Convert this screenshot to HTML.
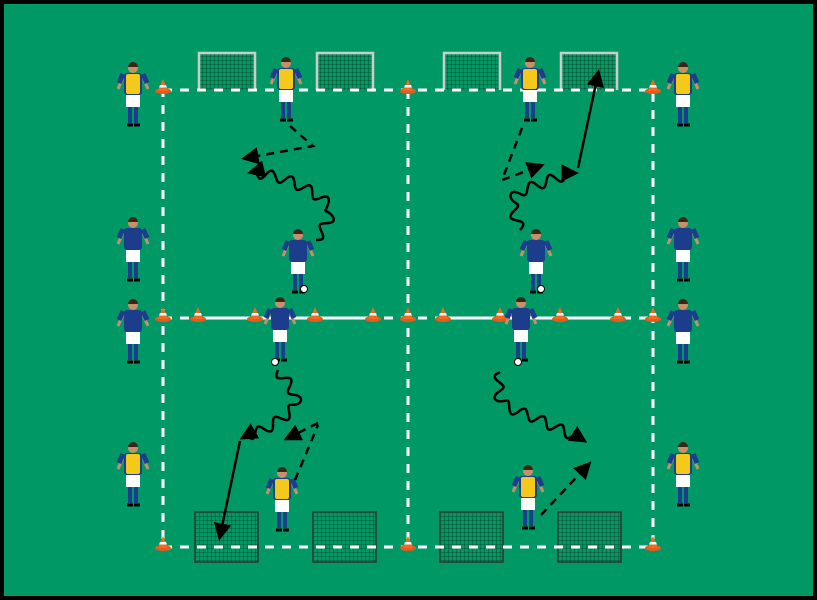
<!DOCTYPE html>
<html><head><meta charset="utf-8"><style>
html,body{margin:0;padding:0;background:#000}
svg{display:block}
</style></head><body>
<svg id="s" width="817" height="600" viewBox="0 0 817 600" xmlns="http://www.w3.org/2000/svg">
<defs>
<pattern id="net" width="4" height="4" patternUnits="userSpaceOnUse"><path d="M0 0H4M0 0V4" stroke="#0a3a22" stroke-width="0.8"/></pattern>
<g id="cone"><ellipse cx="0" cy="3" rx="8" ry="3" fill="#e85a1a"/><path d="M-5 3L0 -9L5 3Z" fill="#f26a22"/><path d="M-3 -3H3L3.9 -0.5H-3.9Z" fill="#fff"/></g>
<g id="pb">
<path d="M-9 -20L-15 -6M9 -20L15 -6" stroke="#c8906a" stroke-width="3"/>
<path d="M-10 -21L-14 -12M10 -21L14 -12" stroke="#1c3c8c" stroke-width="5"/>
<rect x="-9" y="-22" width="18" height="22" rx="3" fill="#1c3c8c"/>
<rect x="-7" y="0" width="14" height="12" fill="#fff"/>
<path d="M-3 12V28M3 12V28" stroke="#1c3c8c" stroke-width="4"/>
<path d="M-6 30H0M1 30H7" stroke="#000" stroke-width="3"/>
<circle cx="0" cy="-27" r="5" fill="#c8906a"/><path d="M-5 -28A5 5 0 0 1 5 -28Z" fill="#3a2618"/>
</g>
<g id="py">
<path d="M-9 -20L-15 -6M9 -20L15 -6" stroke="#c8906a" stroke-width="3"/>
<path d="M-10 -21L-14 -12M10 -21L14 -12" stroke="#1c3c8c" stroke-width="5"/>
<rect x="-9" y="-22" width="18" height="22" rx="3" fill="#1c3c8c"/>
<rect x="-7" y="-21" width="14" height="20" rx="2" fill="#f5c81c"/>
<rect x="-7" y="0" width="14" height="12" fill="#fff"/>
<path d="M-3 12V28M3 12V28" stroke="#1c3c8c" stroke-width="4"/>
<path d="M-6 30H0M1 30H7" stroke="#000" stroke-width="3"/>
<circle cx="0" cy="-27" r="5" fill="#c8906a"/><path d="M-5 -28A5 5 0 0 1 5 -28Z" fill="#3a2618"/>
</g>
<g id="gt"><rect x="0" y="0" width="58" height="38" fill="url(#net)"/><path d="M1 38V1H57V38" fill="none" stroke="#ccc" stroke-width="2.5"/></g>
<g id="gb"><rect x="0" y="0" width="63" height="50" fill="url(#net)" stroke="#333" stroke-width="1.5"/></g>
<marker id="ah" markerWidth="7" markerHeight="7" refX="5" refY="3.5" orient="auto" markerUnits="strokeWidth"><path d="M0 0L7 3.5L0 7Z" fill="#000"/></marker>
</defs>
<rect x="0" y="0" width="817" height="600" fill="#000"/>
<rect x="4" y="4" width="809" height="592" fill="#009966"/>
<use href="#gt" x="198" y="52"/><use href="#gt" x="316" y="52"/><use href="#gt" x="443" y="52"/><use href="#gt" x="560" y="52"/>
<use href="#gb" x="195" y="512"/><use href="#gb" x="313" y="512"/><use href="#gb" x="440" y="512"/><use href="#gb" x="558" y="512"/>
<g stroke="#fff" stroke-width="3" fill="none" stroke-dasharray="9 8">
<rect x="163" y="90" width="490" height="457"/>
<path d="M408 90V547"/>
</g>
<path d="M163 318H653" stroke="#fff" stroke-width="3" stroke-dasharray="9 8"/>
<path d="M198 318H373M443 318H618" stroke="#fff" stroke-width="3"/>
<g>
<use href="#cone" x="163" y="88"/><use href="#cone" x="408" y="88"/><use href="#cone" x="653" y="88"/>
<use href="#cone" x="163" y="545"/><use href="#cone" x="408" y="545"/><use href="#cone" x="653" y="545"/>
<use href="#cone" x="163" y="316"/><use href="#cone" x="198" y="316"/><use href="#cone" x="255" y="316"/><use href="#cone" x="315" y="316"/><use href="#cone" x="373" y="316"/><use href="#cone" x="408" y="316"/><use href="#cone" x="443" y="316"/><use href="#cone" x="500" y="316"/><use href="#cone" x="560" y="316"/><use href="#cone" x="618" y="316"/><use href="#cone" x="653" y="316"/>
</g>
<use href="#py" x="133" y="95"/><use href="#pb" x="133" y="250"/><use href="#pb" x="133" y="332"/><use href="#py" x="133" y="475"/>
<use href="#py" x="683" y="95"/><use href="#pb" x="683" y="250"/><use href="#pb" x="683" y="332"/><use href="#py" x="683" y="475"/>
<use href="#py" x="286" y="90"/><use href="#py" x="530" y="90"/>
<use href="#pb" x="298" y="262"/><use href="#pb" x="536" y="262"/>
<use href="#pb" x="280" y="330"/><use href="#pb" x="521" y="330"/>
<use href="#py" x="282" y="500"/><use href="#py" x="528" y="498"/>
<g fill="#fff" stroke="#000" stroke-width="1"><circle cx="304" cy="289" r="3.5"/><circle cx="541" cy="289" r="3.5"/><circle cx="275" cy="362" r="3.5"/><circle cx="518" cy="362" r="3.5"/></g>
<g stroke="#000" stroke-width="2.5" fill="none" marker-end="url(#ah)">
<path d="M290 126L313 146L246 158" stroke-dasharray="8 6"/>
<path d="M522 128L502 180L540 166" stroke-dasharray="8 6"/>
<path d="M578 168L598 74"/>
<path d="M318 423L288 438" stroke-dasharray="8 6"/>
<path d="M295 480L318 425" stroke-dasharray="8 6" marker-end="none"/>
<path d="M240 441L220 536"/>
<path d="M541 515L588 465" stroke-dasharray="8 6"/>
<path id="w1" d=""/>
<path id="w2" d=""/>
<path id="w3" d=""/>
<path id="w4" d=""/>
</g>
</svg>
<script>
function wave(id,pts,amp,wl){
 // smooth path via Catmull-Rom-ish sampling, then offset by sine along arc length
 var samp=[];
 for(var i=0;i<pts.length-1;i++){
  var p0=pts[Math.max(0,i-1)],p1=pts[i],p2=pts[i+1],p3=pts[Math.min(pts.length-1,i+2)];
  for(var k=0;k<20;k++){var t=k/20,t2=t*t,t3=t2*t;
   var f=function(a,b,c,d){return 0.5*((2*b)+(-a+c)*t+(2*a-5*b+4*c-d)*t2+(-a+3*b-3*c+d)*t3);};
   samp.push([f(p0[0],p1[0],p2[0],p3[0]),f(p0[1],p1[1],p2[1],p3[1])]);}
 }
 samp.push(pts[pts.length-1]);
 var fine=[],s=0;
 for(var i=0;i<samp.length-1;i++){var a=samp[i],b=samp[i+1],L=Math.hypot(b[0]-a[0],b[1]-a[1]);
  var n=Math.max(1,Math.ceil(L/1.5));
  for(var k=0;k<n;k++){fine.push([a[0]+(b[0]-a[0])*k/n,a[1]+(b[1]-a[1])*k/n,s+L*k/n,(b[0]-a[0])/L,(b[1]-a[1])/L]);}
  s+=L;}
 var last=samp[samp.length-1],pl=samp[samp.length-2],LL=Math.hypot(last[0]-pl[0],last[1]-pl[1]);
 fine.push([last[0],last[1],s,(last[0]-pl[0])/LL,(last[1]-pl[1])/LL]);
 var d="";
 for(var i=0;i<fine.length;i++){var q=fine[i],rem=s-q[2];
  var env=Math.min(1,rem/8);
  var o=Math.sin(2*Math.PI*q[2]/wl)*amp*env;
  var x=q[0]-q[4]*o,y=q[1]+q[3]*o;
  d+=(i?"L":"M")+x.toFixed(1)+" "+y.toFixed(1);}
 document.getElementById(id).setAttribute("d",d);
}
wave("w1",[[316,240],[330,208],[292,182],[252,172]],5,20);
wave("w2",[[520,230],[514,198],[545,182],[574,173]],5,20);
wave("w3",[[278,370],[296,402],[270,426],[244,437]],5,20);
wave("w4",[[500,372],[502,402],[540,420],[583,440]],5,20);
</script>
</body></html>
